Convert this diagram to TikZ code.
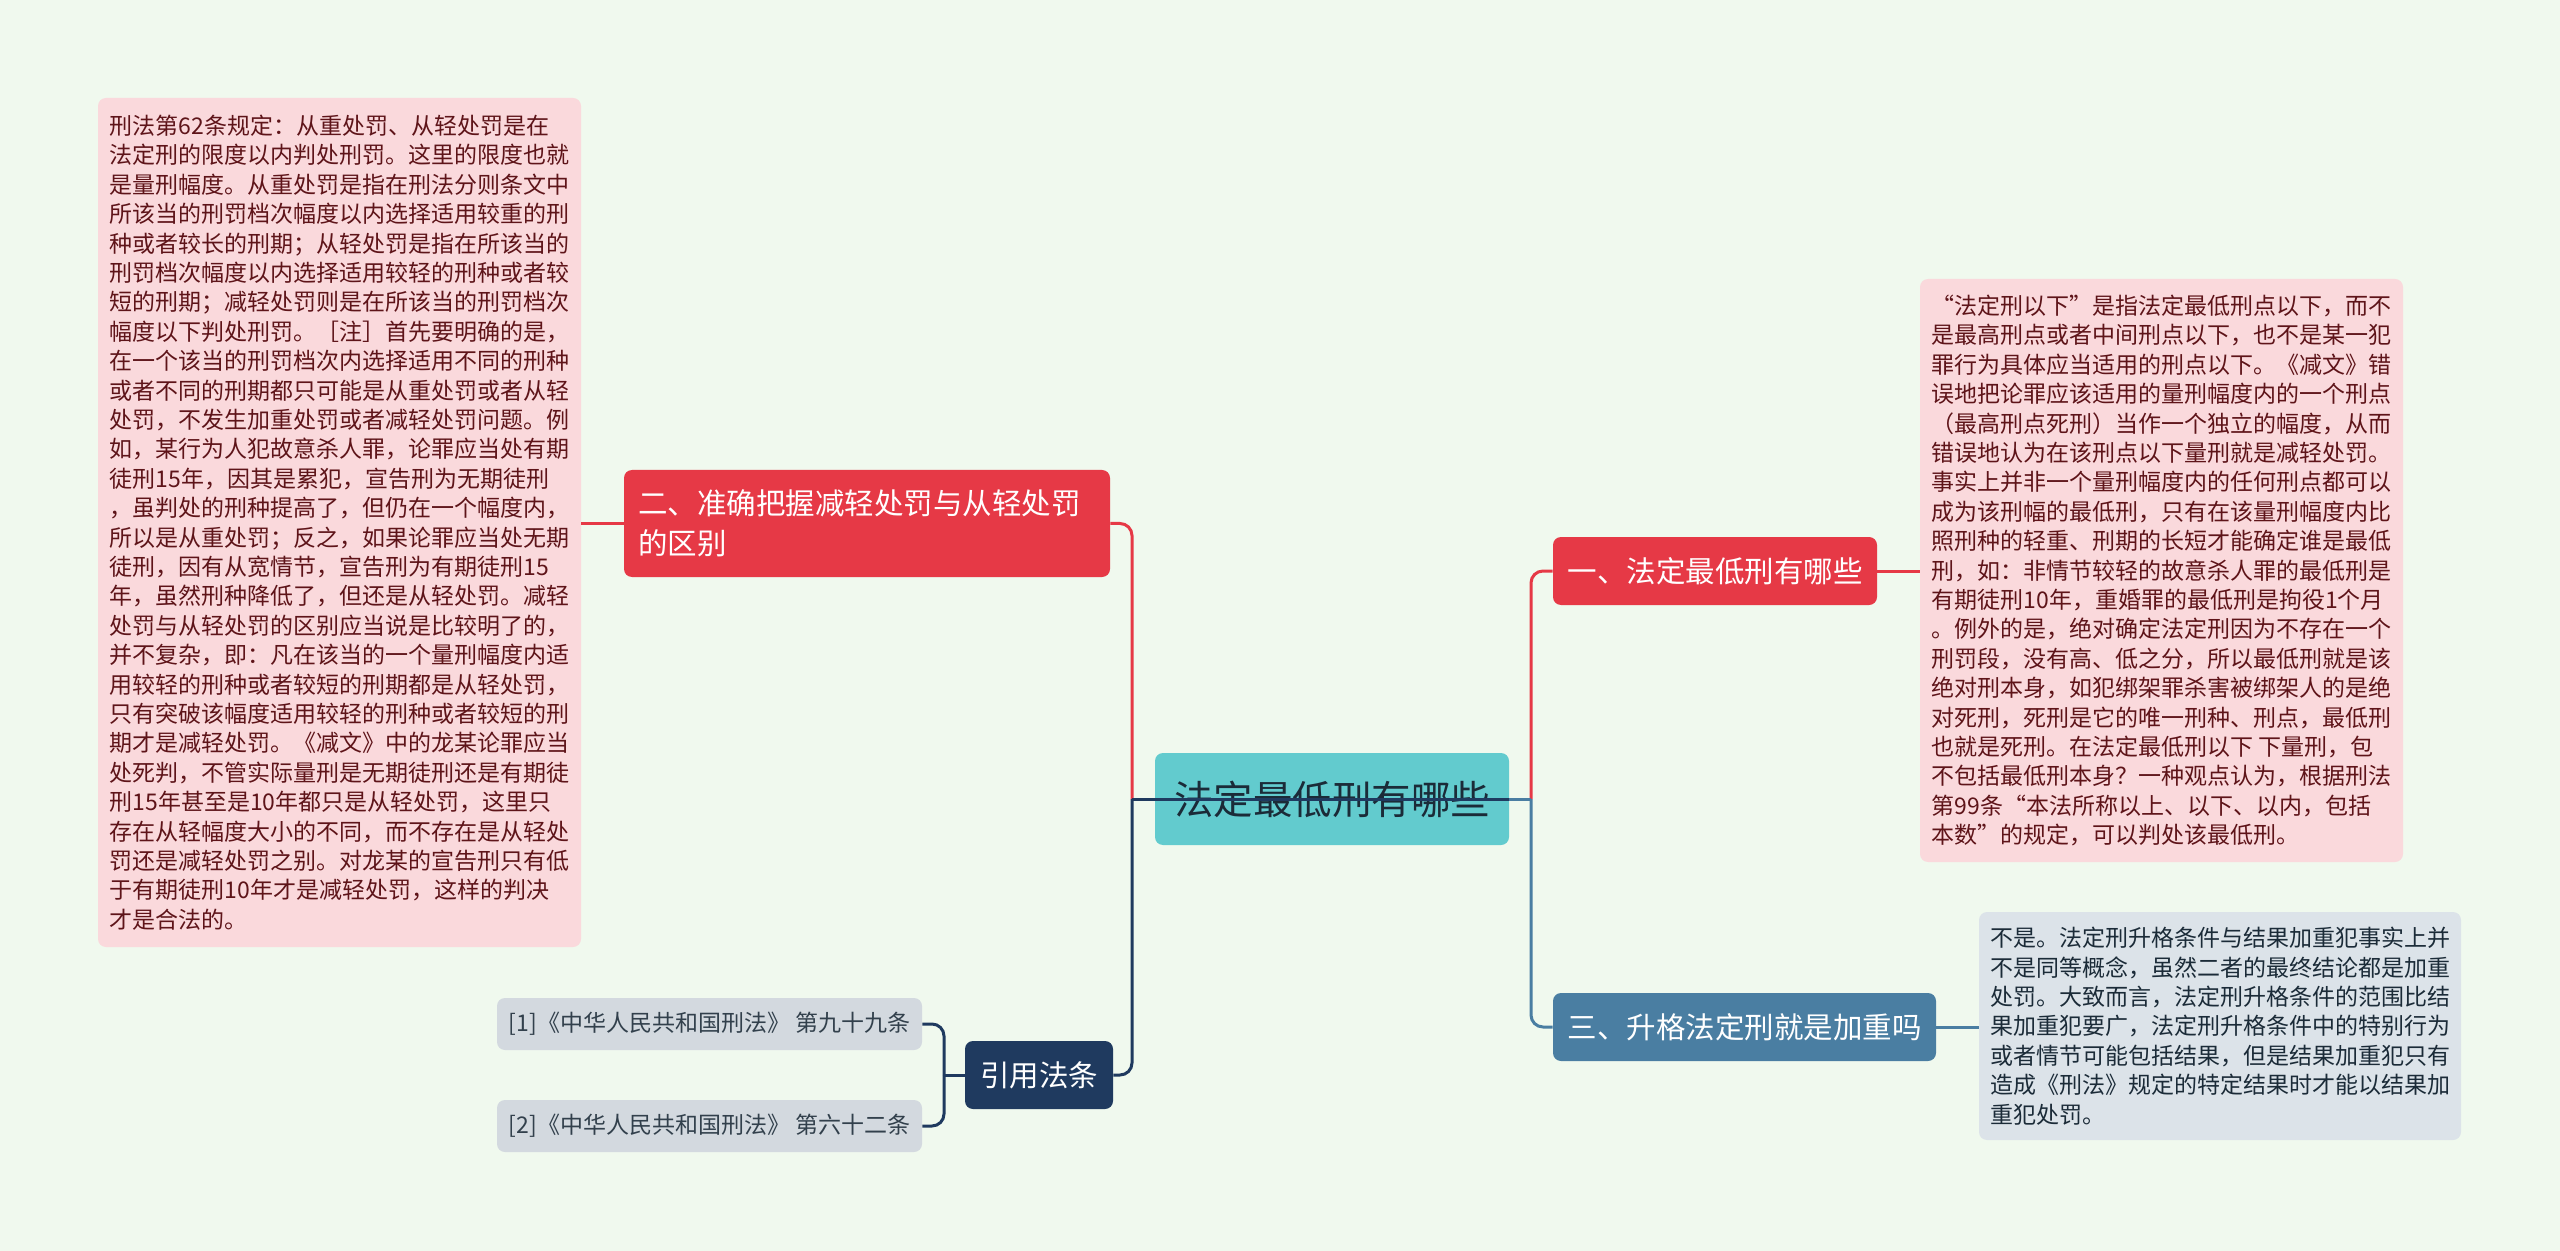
\documentclass[tikz,border=0pt]{standalone}
\usepackage{fontspec}
\setmainfont{Noto Sans CJK SC}
\usetikzlibrary{positioning}
\definecolor{bgc}{HTML}{F0F9EE}
\definecolor{redc}{HTML}{E63946}
\definecolor{pinkc}{HTML}{FAD9DC}
\definecolor{pinktext}{HTML}{5E1419}
\definecolor{tealc}{HTML}{62CBCE}
\definecolor{darkc}{HTML}{1B2B38}
\definecolor{navyc}{HTML}{1F3A5F}
\definecolor{bluec}{HTML}{4A7EA2}
\definecolor{grayc}{HTML}{DCE3E9}
\definecolor{citec}{HTML}{D3D9DF}

\begin{document}
\begin{tikzpicture}[x=0.5pt,y=-0.5pt,
    topic/.style={rounded corners=4pt, inner sep=0pt, align=left, text=white,
        font=\fontsize{14.75pt}{20pt}\selectfont},
    note/.style={rounded corners=4pt, inner sep=0pt, align=left,
        font=\fontsize{11.5pt}{14.7pt}\selectfont},
    link/.style={line width=1.5pt, rounded corners=6pt}]
    \fill[bgc] (0,0) rectangle (2560,1251);
    \useasboundingbox (0,0) rectangle (2560,1251);
    \coordinate (lj) at (1132,799); \coordinate (rj) at (1531,799);
    \coordinate (cj) at (944,1075);
    % topics
    \node[topic, fill=tealc, text=darkc, minimum width=177pt, minimum height=46pt,
        font=\fontsize{19.75pt}{24pt}\selectfont] (root) at (1332,799) {法定最低刑有哪些};
    \node[topic, fill=redc, minimum width=243pt, minimum height=53.5pt, text width=229pt]
        (two) at (867,523.5) {二、准确把握减轻处罚与从轻处罚\\的区别};
    \node[topic, fill=redc, minimum width=162pt, minimum height=34pt] (one) at (1715,571) {一、法定最低刑有哪些};
    \node[topic, fill=bluec, minimum width=191.5pt, minimum height=34pt] (three) at (1744.5,1027) {三、升格法定刑就是加重吗};
    \node[topic, fill=navyc, minimum width=74pt, minimum height=34pt] (cite) at (1039,1075) {引用法条};
    % notes
    \node[note, fill=pinkc, text=pinktext, minimum width=241.5pt, minimum height=424.5pt]
        (twonote) at (339.5,522.5) {刑法第62条规定：从重处罚、从轻处罚是在\\
        法定刑的限度以内判处刑罚。这里的限度也就\\
        是量刑幅度。从重处罚是指在刑法分则条文中\\
        所该当的刑罚档次幅度以内选择适用较重的刑\\
        种或者较长的刑期；从轻处罚是指在所该当的\\
        刑罚档次幅度以内选择适用较轻的刑种或者较\\
        短的刑期；减轻处罚则是在所该当的刑罚档次\\
        幅度以下判处刑罚。［注］首先要明确的是，\\
        在一个该当的刑罚档次内选择适用不同的刑种\\
        或者不同的刑期都只可能是从重处罚或者从轻\\
        处罚，不发生加重处罚或者减轻处罚问题。例\\
        如，某行为人犯故意杀人罪，论罪应当处有期\\
        徒刑15年，因其是累犯，宣告刑为无期徒刑\\
        ，虽判处的刑种提高了，但仍在一个幅度内，\\
        所以是从重处罚；反之，如果论罪应当处无期\\
        徒刑，因有从宽情节，宣告刑为有期徒刑15\\
        年，虽然刑种降低了，但还是从轻处罚。减轻\\
        处罚与从轻处罚的区别应当说是比较明了的，\\
        并不复杂，即：凡在该当的一个量刑幅度内适\\
        用较轻的刑种或者较短的刑期都是从轻处罚，\\
        只有突破该幅度适用较轻的刑种或者较短的刑\\
        期才是减轻处罚。《减文》中的龙某论罪应当\\
        处死判，不管实际量刑是无期徒刑还是有期徒\\
        刑15年甚至是10年都只是从轻处罚，这里只\\
        存在从轻幅度大小的不同，而不存在是从轻处\\
        罚还是减轻处罚之别。对龙某的宣告刑只有低\\
        于有期徒刑10年才是减轻处罚，这样的判决\\
        才是合法的。};
    \node[note, fill=pinkc, text=pinktext, minimum width=241.5pt, minimum height=291.5pt]
        (onenote) at (2161.5,570.5) {“法定刑以下”是指法定最低刑点以下，而不\\
        是最高刑点或者中间刑点以下，也不是某一犯\\
        罪行为具体应当适用的刑点以下。《减文》错\\
        误地把论罪应该适用的量刑幅度内的一个刑点\\
        （最高刑点死刑）当作一个独立的幅度，从而\\
        错误地认为在该刑点以下量刑就是减轻处罚。\\
        事实上并非一个量刑幅度内的任何刑点都可以\\
        成为该刑幅的最低刑，只有在该量刑幅度内比\\
        照刑种的轻重、刑期的长短才能确定谁是最低\\
        刑，如：非情节较轻的故意杀人罪的最低刑是\\
        有期徒刑10年，重婚罪的最低刑是拘役1个月\\
        。例外的是，绝对确定法定刑因为不存在一个\\
        刑罚段，没有高、低之分，所以最低刑就是该\\
        绝对刑本身，如犯绑架罪杀害被绑架人的是绝\\
        对死刑，死刑是它的唯一刑种、刑点，最低刑\\
        也就是死刑。在法定最低刑以下 下量刑，包\\
        不包括最低刑本身？一种观点认为，根据刑法\\
        第99条“本法所称以上、以下、以内，包括\\
        本数”的规定，可以判处该最低刑。};
    \node[note, fill=grayc, text=darkc, minimum width=241pt, minimum height=114pt]
        (threenote) at (2220,1026) {不是。法定刑升格条件与结果加重犯事实上并\\
        不是同等概念，虽然二者的最终结论都是加重\\
        处罚。大致而言，法定刑升格条件的范围比结\\
        果加重犯要广，法定刑升格条件中的特别行为\\
        或者情节可能包括结果，但是结果加重犯只有\\
        造成《刑法》规定的特定结果时才能以结果加\\
        重犯处罚。};
    \node[note, fill=citec, text=darkc!90, minimum width=212.5pt, minimum height=26pt]
        (cite1) at (709.5,1024) {[1]《中华人民共和国刑法》 第九十九条};
    \node[note, fill=citec, text=darkc!90, minimum width=212.5pt, minimum height=26pt]
        (cite2) at (709.5,1126) {[2]《中华人民共和国刑法》 第六十二条};
    % links
    \draw[link, redc] (lj) |- (two.east);
    \draw[link, navyc] (lj) |- (cite.east);
    \draw[link, redc] (rj) |- (one.west);
    \draw[link, bluec] (rj) |- (three.west);
    \draw[link, bluec] (root.east) -- (rj);
    \draw[link, navyc] (lj) -- (root.east);
    \draw[link, redc] (two.west) -- (two.west -| twonote.east);
    \draw[link, redc] (one.east) -- (one.east -| onenote.west);
    \draw[link, bluec] (three.east) -- (three.east -| threenote.west);
    \draw[link, navyc] (cite.west) -- (cj);
    \draw[link, navyc] (cj) |- (cite1.east);
    \draw[link, navyc] (cj) |- (cite2.east);
\end{tikzpicture}
\end{document}
